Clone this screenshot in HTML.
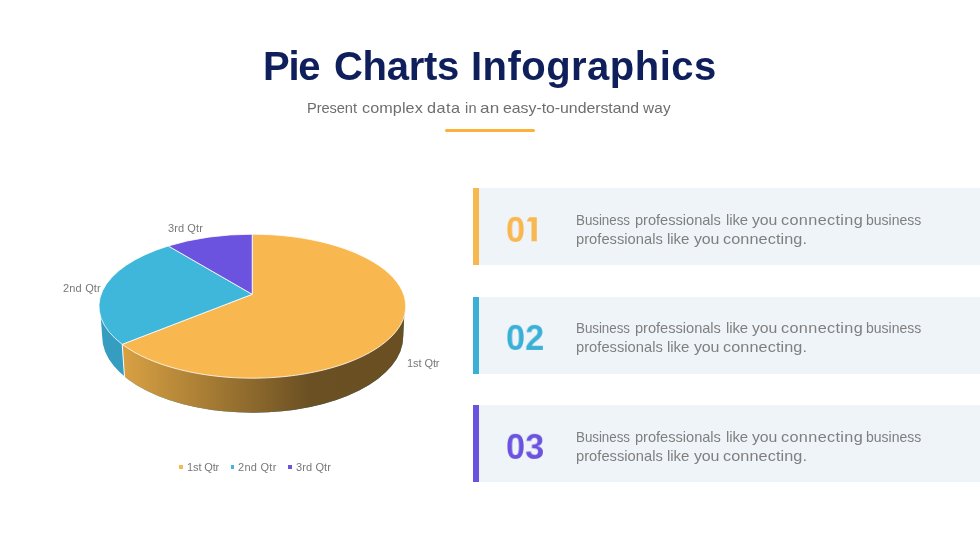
<!DOCTYPE html>
<html>
<head>
<meta charset="utf-8">
<title>Pie Charts Infographics</title>
<style>
  html, body { margin:0; padding:0; }
  body { width:980px; height:552px; background:#ffffff; position:relative; overflow:hidden;
         font-family:"Liberation Sans", sans-serif; }
  .abs { position:absolute; white-space:nowrap; }
  .t { will-change:transform; }
  .tw { top:41px; font-size:40px; line-height:50px; font-weight:bold; color:#0e1f5b; }
  .sw { transform-origin:0 0; top:97.6px; font-size:14.5px; line-height:20px; color:#6e6e6e; }
  #rule { left:444.8px; top:129.3px; width:89.8px; height:2.8px; border-radius:1.5px; background:#fbb13a; }
  .card { left:473.4px; width:506.6px; height:77.2px; background:#eff4f8; }
  .card .bar { position:absolute; left:0; top:0; width:5.5px; height:100%; }
  .card .num { position:absolute; left:32.2px; top:24.1px; font-size:36.2px; line-height:38px; font-weight:bold; letter-spacing:0px; transform:scale(0.945,0.965); transform-origin:0 0; will-change:transform; }
  .card .txt { will-change:transform; position:absolute; left:0; top:23px; width:500px; height:40px; font-size:14.5px; line-height:19.4px; color:#7f7f7f; white-space:nowrap; }
  .card .txt span { position:absolute; transform-origin:0 0; }
  .lbl { font-size:11px; line-height:12px; color:#787878; }
  .sq { width:3.6px; height:3.9px; }
</style>
</head>
<body>
  <div class="abs t tw" style="left:263.2px; letter-spacing:-1.3px;">Pie</div>
  <div class="abs t tw" style="left:334px; letter-spacing:-0.3px;">Charts</div>
  <div class="abs t tw" style="left:471.2px; letter-spacing:0.47px;">Infographics</div>
  <div class="abs t sw" style="left:306.79px; transform:scaleX(1.01); letter-spacing:-0.082px;">Present</div>
  <div class="abs t sw" style="left:362.24px; transform:scaleX(1.116); letter-spacing:0.078px;">complex</div>
  <div class="abs t sw" style="left:426.86px; transform:scaleX(1.12); letter-spacing:0.439px;">data</div>
  <div class="abs t sw" style="left:464.91px; transform:scaleX(1.007); letter-spacing:0.216px;">in</div>
  <div class="abs t sw" style="left:479.69px; transform:scaleX(1.18); letter-spacing:0.223px;">an</div>
  <div class="abs t sw" style="left:502.67px; transform:scaleX(1.093); letter-spacing:-0.022px;">easy-to-understand</div>
  <div class="abs t sw" style="left:643.2px; transform:scaleX(1.058); letter-spacing:0.218px;">way</div>
  <div id="rule" class="abs"></div>

  <svg class="abs" style="left:0;top:0" width="980" height="552" viewBox="0 0 980 552">
    <defs>
      <linearGradient id="gside" gradientUnits="userSpaceOnUse" x1="122" y1="0" x2="406" y2="0">
        <stop offset="0" stop-color="#d9a143"/>
        <stop offset="0.66" stop-color="#6b5023"/>
        <stop offset="1" stop-color="#6a4f22"/>
      </linearGradient>
      <clipPath id="corange"><polygon points="121.9,300 122.2,344.3 124.5,376.8 124.9,430 420,430 420,300"/></clipPath>
    </defs>
    <!-- side wall -->
    <path d="M100,306.2 L102.2,336.8 A150.5,75.95 0 0 0 403.2,336.8 L404.7,306.2 Z" fill="#349dc0"/>
    <path d="M100,306.2 L102.2,336.8 A150.5,75.95 0 0 0 403.2,336.8 L404.7,306.2 Z" fill="url(#gside)" clip-path="url(#corange)"/>
    <line x1="122.2" y1="344.3" x2="124.5" y2="376.8" stroke="#ffffff" stroke-width="1"/>
    <!-- top face -->
    <g stroke="#ffffff" stroke-width="0.8" stroke-linejoin="round">
      <path d="M252.2,294.3 L252.2,234.2 A153.4,72 0 1 1 122.2,344.3 Z" fill="#f9b84f"/>
      <path d="M252.2,294.3 L122.2,344.3 A153.4,72 0 0 1 168.3,245.96 Z" fill="#3eb7da"/>
      <path d="M252.2,294.3 L168.3,245.96 A153.4,72 0 0 1 252.2,234.2 Z" fill="#6b53e0"/>
    </g>
  </svg>

  <div class="abs lbl t" style="left:168.4px; top:221.8px; letter-spacing:0.1px;">3rd Qtr</div>
  <div class="abs lbl t" style="left:63.3px; top:282px; letter-spacing:0.18px;">2nd Qtr</div>
  <div class="abs lbl t" style="left:406.6px; top:356.5px; letter-spacing:-0.08px;">1st Qtr</div>

  <div class="abs sq" style="left:179px; top:465.3px; background:#f9b84f;"></div>
  <div class="abs lbl t" style="left:186.5px; top:460.7px; letter-spacing:-0.12px;">1st Qtr</div>
  <div class="abs sq" style="left:230.5px; top:465.3px; background:#3eb7da;"></div>
  <div class="abs lbl t" style="left:238px; top:460.7px; letter-spacing:0.28px;">2nd Qtr</div>
  <div class="abs sq" style="left:288px; top:465.3px; background:#6b53e0;"></div>
  <div class="abs lbl t" style="left:295.7px; top:460.7px; letter-spacing:0.12px;">3rd Qtr</div>

  <div class="abs card" style="top:188.3px;">
    <div class="bar" style="background:#f9b84f;"></div>
    <div class="num" style="color:#f9b84f;">0</div>
    <svg style="position:absolute;left:50px;top:25px" width="20" height="34" viewBox="523.5 213.3 20 34"><path d="M529.9,217.5 L537.3,217.5 L537.3,241.6 L532,241.6 L532,221.7 L527.7,221.7 L527.7,220.4 Z" fill="#f9b84f"/></svg>
    <div class="txt"><span style="left:103.48px;top:0;transform:scaleX(0.922);letter-spacing:-0.036px">Business</span><span style="left:162.10px;top:0;transform:scaleX(1.01);letter-spacing:-0.032px">professionals</span><span style="left:252.77px;top:0;transform:scaleX(1.028);letter-spacing:-0.074px">like</span><span style="left:278.60px;top:0;transform:scaleX(1.089);letter-spacing:-0.046px">you</span><span style="left:308.43px;top:0;transform:scaleX(1.12);letter-spacing:0.316px">connecting</span><span style="left:392.57px;top:0;transform:scaleX(0.965);letter-spacing:0.011px">business</span><span style="left:103.26px;top:19.4px;transform:scaleX(1.013);letter-spacing:0.018px">professionals</span><span style="left:193.76px;top:19.4px;transform:scaleX(1.038);letter-spacing:-0.096px">like</span><span style="left:220.60px;top:19.4px;transform:scaleX(1.102);letter-spacing:-0.221px">you</span><span style="left:249.83px;top:19.4px;transform:scaleX(1.12);letter-spacing:0.084px">connecting.</span></div>
  </div>
  <div class="abs card" style="top:296.7px;">
    <div class="bar" style="background:#3bb0d6;"></div>
    <div class="num" style="color:#3bb0d6; top:23.6px;">02</div>
    <div class="txt" style="top:22.5px;"><span style="left:103.48px;top:0;transform:scaleX(0.922);letter-spacing:-0.036px">Business</span><span style="left:162.10px;top:0;transform:scaleX(1.01);letter-spacing:-0.032px">professionals</span><span style="left:252.77px;top:0;transform:scaleX(1.028);letter-spacing:-0.074px">like</span><span style="left:278.60px;top:0;transform:scaleX(1.089);letter-spacing:-0.046px">you</span><span style="left:308.43px;top:0;transform:scaleX(1.12);letter-spacing:0.316px">connecting</span><span style="left:392.57px;top:0;transform:scaleX(0.965);letter-spacing:0.011px">business</span><span style="left:103.26px;top:19.4px;transform:scaleX(1.013);letter-spacing:0.018px">professionals</span><span style="left:193.76px;top:19.4px;transform:scaleX(1.038);letter-spacing:-0.096px">like</span><span style="left:220.60px;top:19.4px;transform:scaleX(1.102);letter-spacing:-0.221px">you</span><span style="left:249.83px;top:19.4px;transform:scaleX(1.12);letter-spacing:0.084px">connecting.</span></div>
  </div>
  <div class="abs card" style="top:405.2px;">
    <div class="bar" style="background:#6b53e0;"></div>
    <div class="num" style="color:#6b53e0;">03</div>
    <div class="txt"><span style="left:103.48px;top:0;transform:scaleX(0.922);letter-spacing:-0.036px">Business</span><span style="left:162.10px;top:0;transform:scaleX(1.01);letter-spacing:-0.032px">professionals</span><span style="left:252.77px;top:0;transform:scaleX(1.028);letter-spacing:-0.074px">like</span><span style="left:278.60px;top:0;transform:scaleX(1.089);letter-spacing:-0.046px">you</span><span style="left:308.43px;top:0;transform:scaleX(1.12);letter-spacing:0.316px">connecting</span><span style="left:392.57px;top:0;transform:scaleX(0.965);letter-spacing:0.011px">business</span><span style="left:103.26px;top:19.4px;transform:scaleX(1.013);letter-spacing:0.018px">professionals</span><span style="left:193.76px;top:19.4px;transform:scaleX(1.038);letter-spacing:-0.096px">like</span><span style="left:220.60px;top:19.4px;transform:scaleX(1.102);letter-spacing:-0.221px">you</span><span style="left:249.83px;top:19.4px;transform:scaleX(1.12);letter-spacing:0.084px">connecting.</span></div>
  </div>
</body>
</html>
